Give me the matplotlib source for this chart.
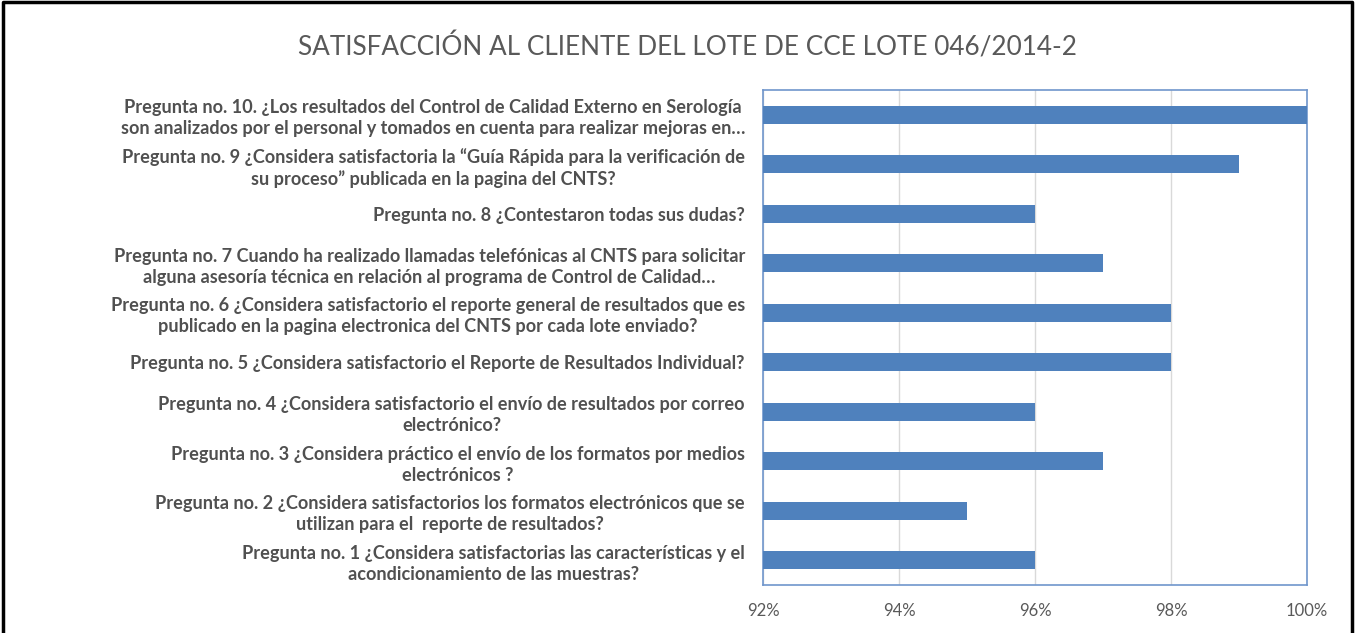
import matplotlib
matplotlib.use("Agg")
import matplotlib.pyplot as plt
from matplotlib.lines import Line2D
from matplotlib.ticker import FixedLocator

title = "SATISFACCIÓN AL CLIENTE DEL LOTE DE CCE LOTE 046/2014-2"

categories = [
    "Pregunta no. 1 ¿Considera satisfactorias las características y el\nacondicionamiento de las muestras?",
    "Pregunta no. 2 ¿Considera satisfactorios los formatos electrónicos que se\nutilizan para el  reporte de resultados?",
    "Pregunta no. 3 ¿Considera práctico el envío de los formatos por medios\nelectrónicos ?",
    "Pregunta no. 4 ¿Considera satisfactorio el envío de resultados por correo\nelectrónico?",
    "Pregunta no. 5 ¿Considera satisfactorio el Reporte de Resultados Individual?",
    "Pregunta no. 6 ¿Considera satisfactorio el reporte general de resultados que es\npublicado en la pagina electronica del CNTS por cada lote enviado?",
    "Pregunta no. 7 Cuando ha realizado llamadas telefónicas al CNTS para solicitar\nalguna asesoría técnica en relación al programa de Control de Calidad…",
    "Pregunta no. 8 ¿Contestaron todas sus dudas?",
    "Pregunta no. 9 ¿Considera satisfactoria la “Guía Rápida para la verificación de\nsu proceso” publicada en la pagina del CNTS?",
    "Pregunta no. 10. ¿Los resultados del Control de Calidad Externo en Serología\nson analizados por el personal y tomados en cuenta para realizar mejoras en…",
]
values = [0.96, 0.95, 0.97, 0.96, 0.98, 0.98, 0.97, 0.96, 0.99, 1.00]
x_ticks = [0.92, 0.94, 0.96, 0.98, 1.00]
x_tick_labels = ["92%", "94%", "96%", "98%", "100%"]

plt.rcParams['font.family'] = ['Lato', 'DejaVu Sans']
grey = "#595959"

W, H = 1355, 633
fig = plt.figure(figsize=(W/100, H/100), dpi=100)
ax = fig.add_axes([763/W, 1-585/H, (1307-763)/W, (585-90)/H])

y = list(range(len(categories)))
ax.barh(y, values, height=0.37, color="#4F81BD", zorder=3)
ax.set_xlim(0.92, 1.00)
ax.set_ylim(-0.5, len(categories) - 0.5)
ax.set_yticks(y)
ax.set_yticklabels(categories, fontsize=13.1, fontweight='bold', color="#505050",
                   ha='right', multialignment='center', linespacing=1.3)
ax.tick_params(axis='y', length=0, pad=13)

ax.xaxis.set_major_locator(FixedLocator(x_ticks))
ax.set_xticklabels(x_tick_labels, fontsize=12, color=grey)
ax.tick_params(axis='x', length=0, pad=13)
ax.grid(axis='x', color="#d9d9d9", linewidth=1, zorder=0)
for s in ax.spines.values():
    s.set_color("#7096cc")
    s.set_linewidth(1.2)

fig.text(688/W, 1-47/H, title, ha='center', va='center', fontsize=18.8, color=grey)

# outer black frame (bottom edge falls outside the image)
xl, xr, yt = 3/W, 1352/W, 1-2/H
fig.add_artist(Line2D([xl, xl, xr, xr], [-0.05, yt, yt, -0.05], transform=fig.transFigure,
                      color='black', linewidth=2.5, clip_on=False))

fig.savefig("out.png", dpi=100)
